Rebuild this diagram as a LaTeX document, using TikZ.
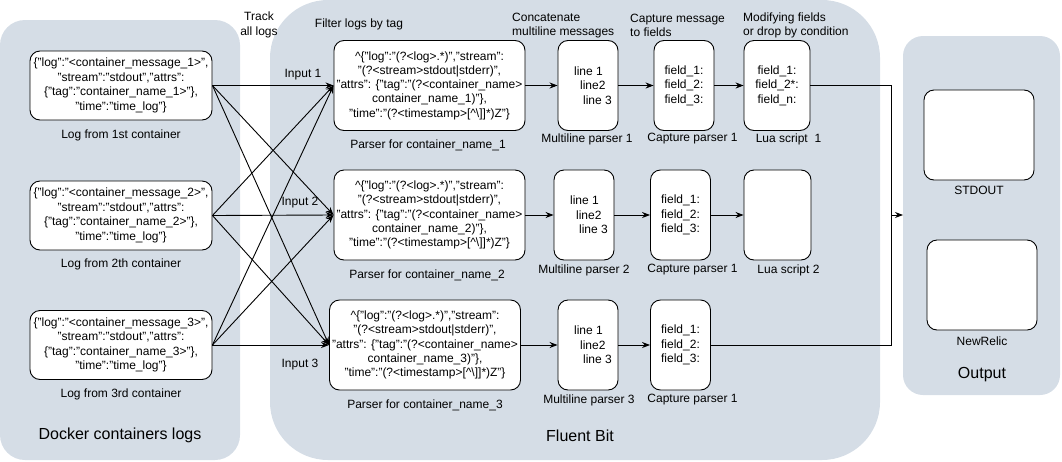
\documentclass[tikz,border=0pt]{standalone}
\usepackage{fontspec}
\setmainfont{Liberation Sans}
\usetikzlibrary{arrows.meta}
\definecolor{panelgray}{HTML}{D5DDE6}
\newcommand{\logtext}[1]{\{"log":"<container\_message\_#1>",\\ "stream":"stdout","attrs":\\ \{"tag":"container\_name\_#1>"\},\\ "time":"time\_log"\}}
\newcommand{\parsertext}[1]{\textasciicircum\{"log":"(?<log>.*)","stream":\\ "(?<stream>stdout|stderr)",\\ "attrs": \{"tag":"(?<container\_name>\\ container\_name\_#1)"\},\\ "time":"(?<timestamp>[\textasciicircum\textbackslash]]*)Z"\}}
\newcommand{\linestext}{\hspace*{10pt}line 1\\ \hspace*{16pt}line2\\ \hspace*{19pt}line 3}
\newcommand{\fieldstext}{field\_1:\\ field\_2:\\ field\_3:}
\tikzset{
  panel/.style={fill=panelgray},
  box/.style={draw, fill=white, rounded corners=10pt, line width=0.9pt, inner sep=1pt},
  jsonbox/.style={box, align=center, minimum width=182pt, minimum height=69pt},
  parserbox/.style={box, align=center, minimum width=191pt, minimum height=90pt, font=\fontsize{12}{14.2}\selectfont},
  stagebox/.style={box, align=left, minimum width=60pt, minimum height=90pt},
  outbox/.style={box, minimum width=110pt, minimum height=90pt},
  caption/.style={inner sep=0pt, align=center},
  bigcaption/.style={inner sep=0pt, font=\fontsize{16}{19}\selectfont},
  flow/.style={line width=0.9pt, -{Stealth[length=8pt,width=6pt]}},
}
\begin{document}
\begin{tikzpicture}[x=1pt, y=-1pt, font=\fontsize{12}{14.5}\selectfont]
  \useasboundingbox (0,0) rectangle (1062,461);
  % background panels
  \fill[panel, rounded corners=25pt] (0,20) rectangle (240,460);
  \fill[panel, rounded corners=58pt] (270,0) rectangle (880,460);
  \fill[panel, rounded corners=20pt] (903,36) rectangle (1060,395);

  % docker containers
  \node[jsonbox] (log1) at (121,85.5) {\logtext{1}};
  \node[jsonbox] (log2) at (121,215.5) {\logtext{2}};
  \node[jsonbox] (log3) at (121,345) {\logtext{3}};
  \node[caption] (log1cap) at (121,135) {Log from 1st container};
  \node[caption] (log2cap) at (121,264) {Log from 2th container};
  \node[caption] (log3cap) at (121,394) {Log from 3rd container};
  \node[bigcaption] (dockercap) at (120,435) {Docker containers logs};

  % fluent bit stages
  \node[parserbox] (parser1) at (429.5,85.5) {\parsertext{1}};
  \node[parserbox] (parser2) at (429.5,215) {\parsertext{2}};
  \node[parserbox] (parser3) at (425,345) {\parsertext{3}};
  \node[stagebox] (multi1) at (588,85.5) {\linestext};
  \node[stagebox] (multi2) at (584,215) {\linestext};
  \node[stagebox] (multi3) at (588,345) {\linestext};
  \node[stagebox] (capture1) at (684,85.5) {\fieldstext};
  \node[stagebox] (capture2) at (680.5,215) {\fieldstext};
  \node[stagebox] (capture3) at (680.5,345) {\fieldstext};
  \node[stagebox, align=center, minimum width=66pt] (lua1) at (777,85.5) {field\_1:\\ field\_2*:\\ field\_n:};
  \node[stagebox, minimum width=67pt] (lua2) at (777.5,215) {};

  \node[caption] (parser1cap) at (428,145) {Parser for container\_name\_1};
  \node[caption] (parser2cap) at (427,275) {Parser for container\_name\_2};
  \node[caption] (parser3cap) at (425,405) {Parser for container\_name\_3};
  \node[caption] (multi1cap) at (587,139) {Multiline parser 1};
  \node[caption] (multi2cap) at (584,270) {Multiline parser 2};
  \node[caption] (multi3cap) at (589,400) {Multiline parser 3};
  \node[caption] (capture1cap) at (692.5,139) {Capture parser 1};
  \node[caption] (capture2cap) at (692.5,270) {Capture parser 1};
  \node[caption] (capture3cap) at (692.5,400) {Capture parser 1};
  \node[caption] (lua1cap) at (788.5,139) {Lua script\ \ 1};
  \node[caption] (lua2cap) at (788.5,270) {Lua script 2};
  \node[bigcaption] (fluentcap) at (580,436) {Fluent Bit};

  % headings
  \node[caption] (trackcap) at (259,25) {Track\\ all logs};
  \node[caption] (filtercap) at (359,24) {Filter logs by tag};
  \node[caption, align=left, anchor=west] (concatcap) at (512,25.5) {Concatenate\\ multiline messages};
  \node[caption, align=left, anchor=west] (capturecap) at (630,25.5) {Capture message\\ to fields};
  \node[caption, align=left, anchor=west] (modifycap) at (743,25.5) {Modifying fields\\ or drop by condition};
  \node[caption] (input1) at (303,75) {Input 1};
  \node[caption] (input2) at (300,203) {Input 2};
  \node[caption] (input3) at (300,365) {Input 3};

  % outputs
  \node[outbox] (stdout) at (979,135) {};
  \node[outbox] (newrelic) at (982,285) {};
  \node[caption] (stdoutcap) at (979,190) {STDOUT};
  \node[caption] (newreliccap) at (982,341) {NewRelic};
  \node[bigcaption] (outputcap) at (982,375) {Output};

  % every container goes to every parser
  \foreach \i in {1,2,3}
    \foreach \j in {1,2,3}
      \draw[flow] (log\i.east) -- (parser\j.west);

  \draw[flow] (parser1) -- (multi1);
  \draw[flow] (multi1) -- (capture1);
  \draw[flow] (capture1) -- (lua1);
  \draw[flow] (parser2) -- (multi2);
  \draw[flow] (multi2) -- (capture2);
  \draw[flow] (capture2) -- (lua2);
  \draw[flow] (parser3) -- (multi3);
  \draw[flow] (multi3) -- (capture3);

  % collect into output
  \coordinate (busMid) at (891,215);
  \coordinate (outIn) at (903,215);
  \draw[line width=0.9pt] (lua1.east) -| (busMid) |- (capture3.east);
  \draw[flow] (busMid) -- (outIn);
\end{tikzpicture}
\end{document}
